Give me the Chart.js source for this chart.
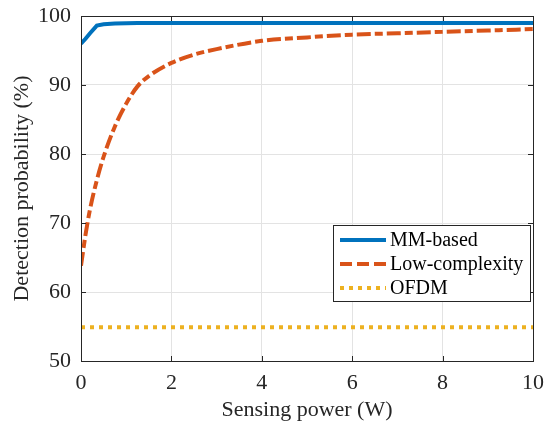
<!DOCTYPE html>
<html>
<head>
<meta charset="utf-8">
<script src="https://cdn.jsdelivr.net/npm/chart.js@4.4.1/dist/chart.umd.min.js"></script>
<style>
  html, body { margin: 0; padding: 0; background: #fff; }
  #wrap { width: 547px; height: 423px; position: relative; }
</style>
</head>
<body>
<div id="wrap"><canvas id="chart" width="547" height="423"></canvas></div>
<script>
// ===== Data =====
const sensingPower = [0, 0.1, 0.2, 0.35, 0.5, 0.75, 1, 1.25, 1.5, 2, 2.5, 3, 4, 5, 6, 7, 8, 9, 10];
const mmBased = [96.0, 96.7, 97.5, 98.6, 98.8, 98.9, 98.95, 99, 99, 99, 99, 99, 99, 99, 99, 99, 99, 99, 99];
const lowComplexity = [63.8, 68.3, 72.0, 76.2, 79.6, 84.0, 87.3, 89.8, 91.3, 93.2, 94.4, 95.2, 96.4, 96.9, 97.3, 97.5, 97.7, 97.9, 98.1];
const ofdm = [54.9, 54.9, 54.9, 54.9, 54.9, 54.9, 54.9, 54.9, 54.9, 54.9, 54.9, 54.9, 54.9, 54.9, 54.9, 54.9, 54.9, 54.9, 54.9];
const xTicks = [0, 2, 4, 6, 8, 10];
const yTicks = [50, 60, 70, 80, 90, 100];

const serif = "'Liberation Serif', 'DejaVu Serif', serif";
const pts = ys => sensingPower.map((x, i) => ({ x: x, y: ys[i] }));

// ===== Box, inward ticks and in-axes legend (MATLAB look) =====
const matlabFrame = {
    id: 'matlabFrame',
    afterDraw(chart) {
        const { ctx, chartArea: a, scales } = chart;
        ctx.save();
        ctx.strokeStyle = '#262626';
        ctx.lineWidth = 1;
        ctx.strokeRect(a.left + 0.5, a.top + 0.5, a.right - a.left, a.bottom - a.top);
        // inward tick marks
        xTicks.forEach(v => {
            const px = Math.round(scales.x.getPixelForValue(v)) + 0.5;
            ctx.beginPath();
            ctx.moveTo(px, a.bottom); ctx.lineTo(px, a.bottom - 5);
            ctx.moveTo(px, a.top); ctx.lineTo(px, a.top + 5);
            ctx.stroke();
        });
        yTicks.forEach(v => {
            const py = Math.round(scales.y.getPixelForValue(v)) + 0.5;
            ctx.beginPath();
            ctx.moveTo(a.left, py); ctx.lineTo(a.left + 5, py);
            ctx.moveTo(a.right, py); ctx.lineTo(a.right - 5, py);
            ctx.stroke();
        });

        // legend
        const lx = 333, ly = 225, lw = 197, lh = 76;
        ctx.fillStyle = '#fff';
        ctx.fillRect(lx, ly, lw, lh);
        ctx.strokeStyle = '#262626';
        ctx.strokeRect(lx + 0.5, ly + 0.5, lw, lh);
        ctx.font = '20px ' + serif;
        ctx.textBaseline = 'middle';
        chart.data.datasets.forEach((ds, i) => {
            const y = ly + 15 + i * 24;
            ctx.strokeStyle = ds.borderColor;
            ctx.lineWidth = ds.borderWidth;
            ctx.setLineDash(ds.legendDash || []);
            ctx.beginPath();
            ctx.moveTo(lx + 7, y); ctx.lineTo(lx + 53, y);
            ctx.stroke();
            ctx.setLineDash([]);
            ctx.fillStyle = '#000';
            ctx.fillText(ds.label, lx + 57, y + 1);
        });
        ctx.restore();
    }
};

new Chart(document.getElementById('chart').getContext('2d'), {
    type: 'line',
    data: {
        datasets: [
            {
                label: 'MM-based',
                data: pts(mmBased),
                borderColor: '#0072BD',
                borderWidth: 4,
                pointRadius: 0,
                tension: 0,
            },
            {
                label: 'Low-complexity',
                data: pts(lowComplexity),
                borderColor: '#D95319',
                borderWidth: 4,
                borderDash: [14, 4, 8, 4],
                legendDash: [12, 5],
                pointRadius: 0,
                cubicInterpolationMode: 'monotone',
            },
            {
                label: 'OFDM',
                data: pts(ofdm),
                borderColor: '#EDB120',
                borderWidth: 4,
                borderDash: [4, 5],
                legendDash: [4, 5],
                pointRadius: 0,
            }
        ]
    },
    options: {
        responsive: false,
        animation: false,
        layout: { padding: { left: 0, right: 14, top: 16, bottom: 0 } },
        plugins: { legend: { display: false }, tooltip: { enabled: false } },
        scales: {
            x: {
                type: 'linear',
                min: 0, max: 10,
                afterBuildTicks: s => { s.ticks = xTicks.map(v => ({ value: v })); },
                afterFit: s => { s.height = 62; s.paddingLeft = 0; s.paddingRight = 0; },
                ticks: { color: '#262626', font: { family: serif, size: 22 }, padding: 9, maxRotation: 0 },
                grid: { color: '#e3e3e3', drawTicks: false },
                border: { color: '#262626' },
                title: {
                    display: true, text: 'Sensing power (W)', color: '#262626',
                    font: { family: serif, size: 22 }, padding: { top: 0, bottom: 0 }
                }
            },
            y: {
                min: 50, max: 100,
                afterBuildTicks: s => { s.ticks = yTicks.map(v => ({ value: v })); },
                afterFit: s => { s.width = 81; s.paddingTop = 0; s.paddingBottom = 0; },
                ticks: { color: '#262626', font: { family: serif, size: 22 }, padding: 10 },
                grid: { color: '#e3e3e3', drawTicks: false },
                border: { color: '#262626' },
                title: {
                    display: true, text: 'Detection probability (%)', color: '#262626',
                    font: { family: serif, size: 22 }, padding: { top: 9, bottom: 0 }
                }
            }
        }
    },
    plugins: [matlabFrame]
});
</script>
</body>
</html>
